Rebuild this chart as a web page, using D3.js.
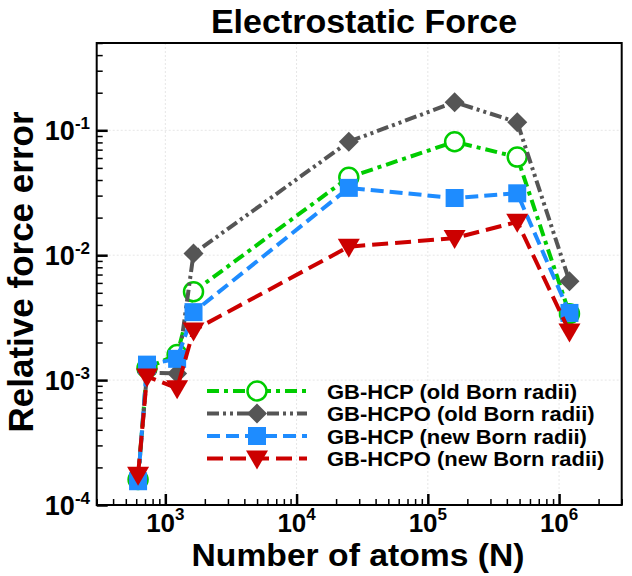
<!DOCTYPE html>
<html>
<head>
<meta charset="utf-8">
<script src="https://cdn.jsdelivr.net/npm/d3@7"></script>
<style>
  html, body { margin: 0; padding: 0; background: #fff; }
  svg { display: block; font-family: "Liberation Sans", Arial, sans-serif; }
</style>
</head>
<body>
<svg id="chart" width="632" height="576"></svg>
<script>
// ---- data ----
const atoms = [620, 725, 1230, 1640, 25000, 160000, 480000, 1200000];
const hcpOld  = [1.6e-4, 1.25e-3, 1.6e-3, 5.1e-3, 0.042, 0.081, 0.061, 3.4e-3];
const hcpoOld = [1.6e-4, 1.15e-3, 1.13e-3, 0.0103, 0.081, 0.168, 0.116, 6.2e-3];
const hcpNew  = [1.55e-4, 1.33e-3, 1.48e-3, 3.5e-3, 0.0346, 0.0287, 0.0313, 3.45e-3];
const hcpoNew = [1.75e-4, 1.07e-3, 8.6e-4, 2.5e-3, 0.0117, 0.0137, 0.0185, 2.45e-3];
const seriesNames = ["GB-HCP (old Born radii)", "GB-HCPO (old Born radii)", "GB-HCP (new Born radii)", "GB-HCPO (new Born radii)"];
const xMajorTicks = [1e3, 1e4, 1e5, 1e6];
const xTickExp = ["3", "4", "5", "6"];
const yMajorTicks = [1e-4, 1e-3, 1e-2, 1e-1];
const yTickExp = ["-4", "-3", "-2", "-1"];

const styles = [
  {color: "#00cc00", dash: "12,5,4,5", marker: "circle"},
  {color: "#555555", dash: "12,4,3,4,3,4", marker: "diamond"},
  {color: "#1e8cff", dash: "13,6", marker: "square"},
  {color: "#cc0000", dash: "16,7", marker: "triangle"}
];
const allSeries = [hcpOld, hcpoOld, hcpNew, hcpoNew];

const svg = d3.select("#chart");
const L = 96.7, R = 621.7, T = 43, B = 505;

const x = d3.scaleLog().domain([300, 3e6]).range([L, R]);
const y = d3.scaleLog().domain([1e-4, 0.5]).range([B, T]);

// grid
const grid = svg.append("g");
grid.selectAll("line.gx").data(xMajorTicks).join("line")
  .attr("x1", d => x(d)).attr("x2", d => x(d)).attr("y1", T).attr("y2", B)
  .attr("stroke", "#e6e6e6").attr("stroke-width", 1).attr("stroke-dasharray", "2,2");
grid.selectAll("line.gy").data(yMajorTicks.slice(1)).join("line")
  .attr("y1", d => y(d)).attr("y2", d => y(d)).attr("x1", L).attr("x2", R)
  .attr("stroke", "#e6e6e6").attr("stroke-width", 1).attr("stroke-dasharray", "2,2");

// axes ticks (inward)
const xMinor = x.ticks().filter(d => !xMajorTicks.includes(d));
const yMinor = y.ticks().filter(d => !yMajorTicks.some(m => Math.abs(m - d) / m < 1e-9));

function styleAxis(g) {
  g.select(".domain").remove();
  g.selectAll(".tick line").attr("stroke", "#000").attr("stroke-width", 1.5);
  g.selectAll(".tick text").remove();
}
svg.append("g").attr("transform", `translate(0,${B})`)
  .call(d3.axisBottom(x).tickValues(xMinor).tickSize(-6).tickFormat("")).call(styleAxis);
svg.append("g").attr("transform", `translate(0,${B})`)
  .call(d3.axisBottom(x).tickValues(xMajorTicks).tickSize(-11).tickFormat("")).call(styleAxis)
  .selectAll(".tick line").attr("stroke-width", 2.5);
svg.append("g").attr("transform", `translate(${L},0)`)
  .call(d3.axisLeft(y).tickValues(yMinor).tickSize(-6).tickFormat("")).call(styleAxis);
svg.append("g").attr("transform", `translate(${L},0)`)
  .call(d3.axisLeft(y).tickValues(yMajorTicks).tickSize(-11).tickFormat("")).call(styleAxis)
  .selectAll(".tick line").attr("stroke-width", 2.5);

// frame
svg.append("rect").attr("x", L).attr("y", T).attr("width", R - L).attr("height", B - T)
  .attr("fill", "none").attr("stroke", "#000").attr("stroke-width", 2);

// tick labels
const xl = svg.append("g").attr("font-weight", "bold").attr("fill", "#000");
xMajorTicks.forEach((t, i) => {
  const tx = xl.append("text").attr("x", x(t)).attr("y", B + 27).attr("text-anchor", "middle")
    .attr("font-size", 26);
  tx.append("tspan").text("10");
  tx.append("tspan").attr("font-size", 17).attr("dy", -12).text(xTickExp[i]);
});
const yl = svg.append("g").attr("font-weight", "bold").attr("fill", "#000");
yMajorTicks.forEach((t, i) => {
  const tx = yl.append("text").attr("x", 90).attr("y", y(t) + 9.5).attr("text-anchor", "end")
    .attr("font-size", 27);
  tx.append("tspan").text("10");
  tx.append("tspan").attr("font-size", 17).attr("dy", -11).text(yTickExp[i]);
});

// titles
svg.append("text").attr("x", 364).attr("y", 33).attr("text-anchor", "middle")
  .attr("font-size", 34).attr("font-weight", "bold").text("Electrostatic Force");
svg.append("text").attr("x", 358).attr("y", 566).attr("text-anchor", "middle")
  .attr("font-size", 31).attr("font-weight", "bold")
  .attr("textLength", 333).attr("lengthAdjust", "spacingAndGlyphs").text("Number of atoms (N)");
svg.append("text").attr("transform", "translate(33,272) rotate(-90)").attr("text-anchor", "middle")
  .attr("font-size", 35).attr("font-weight", "bold").text("Relative force error");

// markers
function drawMarker(g, kind, cx, cy, color) {
  if (kind === "circle") {
    g.append("circle").attr("cx", cx).attr("cy", cy).attr("r", 9.5)
      .attr("fill", "#fff").attr("stroke", color).attr("stroke-width", 2.5);
  } else if (kind === "square") {
    g.append("rect").attr("x", cx - 9).attr("y", cy - 9).attr("width", 18).attr("height", 18)
      .attr("fill", color);
  } else if (kind === "diamond") {
    g.append("path").attr("d", `M${cx},${cy - 10}L${cx + 10},${cy}L${cx},${cy + 10}L${cx - 10},${cy}Z`)
      .attr("fill", color);
  } else {
    g.append("path").attr("d", `M${cx - 11},${cy - 8}L${cx + 11},${cy - 8}L${cx},${cy + 11}Z`)
      .attr("fill", color);
  }
}

const line = d3.line().x(d => x(d[0])).y(d => y(d[1]));
allSeries.forEach((vals, i) => {
  const st = styles[i];
  const pts = atoms.map((a, j) => [a, vals[j]]);
  const g = svg.append("g");
  g.append("path").attr("d", line(pts)).attr("fill", "none")
    .attr("stroke", st.color).attr("stroke-width", 4).attr("stroke-dasharray", st.dash);
  pts.forEach(p => drawMarker(g, st.marker, x(p[0]), y(p[1]), st.color));
});

// legend
const legY = [391, 413.5, 436, 458.5];
const lg = svg.append("g");
seriesNames.forEach((name, i) => {
  const st = styles[i];
  lg.append("line").attr("x1", 207).attr("x2", 307).attr("y1", legY[i]).attr("y2", legY[i])
    .attr("stroke", st.color).attr("stroke-width", 4).attr("stroke-dasharray", st.dash);
  drawMarker(lg, st.marker, 257, legY[i], st.color);
  const t = lg.append("text").attr("x", 327).attr("y", legY[i] + 8).attr("font-size", 22)
    .attr("font-weight", "bold").text(name);
  const w = t.node().getComputedTextLength();
  t.attr("font-size", 20).attr("y", legY[i] + 7.5)
    .attr("textLength", w).attr("lengthAdjust", "spacingAndGlyphs");
});
</script>
</body>
</html>
